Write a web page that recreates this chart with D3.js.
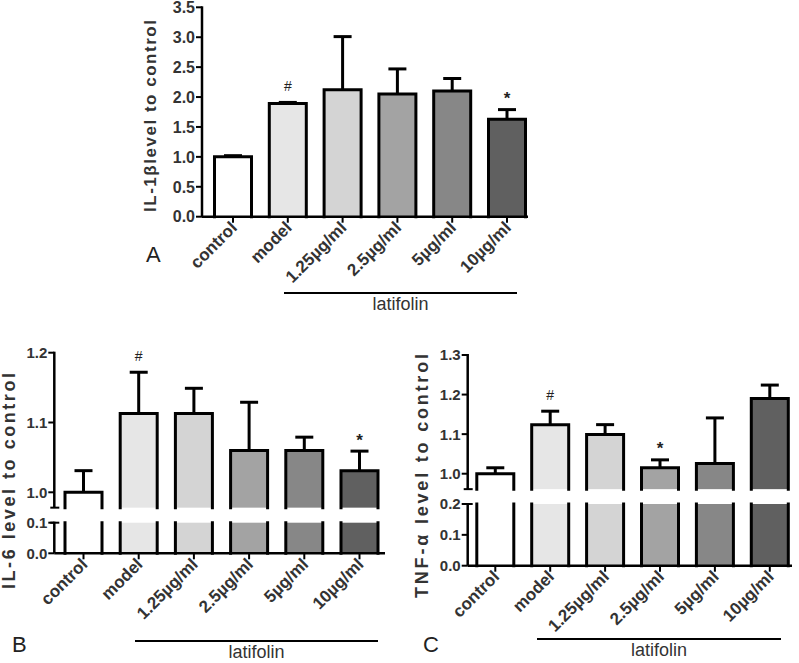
<!DOCTYPE html>
<html>
<head>
<meta charset="utf-8">
<script src="https://cdn.jsdelivr.net/npm/d3@7"></script>
<style>
  html, body { margin: 0; padding: 0; background: #fff; }
  svg { display: block; }
  text { font-family: Arial, "Liberation Sans", Helvetica, sans-serif; fill: #222; }
</style>
</head>
<body>
<svg id="chart" width="799" height="663"></svg>
<script>
// ---------- data ----------
const categories = ["control", "model", "1.25µg/ml", "2.5µg/ml", "5µg/ml", "10µg/ml"];
const barFills = ["#ffffff", "#e6e6e6", "#d4d4d4", "#a3a3a3", "#878787", "#606060"];

const il1bMean = [1.00, 1.89, 2.12, 2.05, 2.10, 1.63];
const il1bErr  = [0.02, 0.02, 0.89, 0.42, 0.21, 0.16];
const il1bMarks = ["", "#", "", "", "", "*"];
const il1bTicks = [0.0, 0.5, 1.0, 1.5, 2.0, 2.5, 3.0, 3.5];

const il6Mean = [1.000, 1.113, 1.113, 1.060, 1.060, 1.031];
const il6Err  = [0.031, 0.059, 0.036, 0.069, 0.019, 0.028];
const il6Marks = ["", "#", "", "", "", "*"];
const il6TicksLow = [0.0, 0.1];
const il6TicksHigh = [1.0, 1.1, 1.2];

const tnfMean = [1.000, 1.124, 1.099, 1.015, 1.026, 1.190];
const tnfErr  = [0.015, 0.034, 0.025, 0.020, 0.115, 0.034];
const tnfMarks = ["", "#", "", "*", "", ""];
const tnfTicksLow = [0.0, 0.1, 0.2];
const tnfTicksHigh = [1.0, 1.1, 1.2, 1.3];

const groupLabel = "latifolin";

// ---------- drawing ----------
const svg = d3.select("#chart");
const SW = 3;       // outline width
const BARW = 37;    // inner bar width

function fmt(v) { return d3.format(".1f")(v); }

function drawPanel(cfg) {
  const g = svg.append("g");
  const step = (cfg.bandRange[1] - cfg.bandRange[0]) / categories.length;
  const pad = 1 - (BARW + SW) / step;
  const x = d3.scaleBand().domain(categories).range(cfg.bandRange)
    .paddingInner(pad).paddingOuter(pad / 2);
  const cx = c => x(c) + x.bandwidth() / 2;

  const segs = cfg.segments;
  const low = segs[0].scale;
  const y0 = low(0);

  // bars
  categories.forEach((c, i) => {
    const v = cfg.mean[i];
    const left = cx(c) - BARW / 2, right = cx(c) + BARW / 2;
    segs.forEach(s => {
      const [d0, d1] = s.scale.domain();
      if (v <= d0) return;
      const top = Math.min(v, d1);
      const yt = s.scale(top), yb = s.scale(d0);
      g.append("rect").attr("x", left).attr("y", yt).attr("width", BARW)
        .attr("height", yb - yt).attr("fill", cfg.fills[i]);
      let p = `M${left},${yb} L${left},${yt}`;
      if (v <= d1) p += ` L${right},${yt}`; else p += ` M${right},${yt}`;
      p += ` L${right},${yb}`;
      g.append("path").attr("d", p).attr("fill", "none").attr("stroke", "#000")
        .attr("stroke-width", SW).attr("stroke-linecap", "square");
    });
    // error bar
    const topSeg = segs.find(s => v >= s.scale.domain()[0] && v <= s.scale.domain()[1]);
    const ys = topSeg.scale;
    const yv = ys(v), ye = ys(v + cfg.err[i]);
    g.append("line").attr("x1", cx(c)).attr("x2", cx(c)).attr("y1", yv).attr("y2", ye)
      .attr("stroke", "#000").attr("stroke-width", SW);
    g.append("line").attr("x1", cx(c) - 9).attr("x2", cx(c) + 9).attr("y1", ye).attr("y2", ye)
      .attr("stroke", "#000").attr("stroke-width", SW);
    if (cfg.marks[i]) {
      const isStar = cfg.marks[i] === "*";
      g.append("text").attr("x", cx(c)).attr("y", ye - 16)
        .attr("text-anchor", "middle")
        .attr("dy", isStar ? "0.62em" : "0.36em")
        .style("font-size", isStar ? "17px" : "14px")
        .style("font-weight", isStar ? "bold" : "normal")
        .text(cfg.marks[i]);
    }
  });

  // y axis segments
  segs.forEach((s, si) => {
    const [d0, d1] = s.scale.domain();
    const yt = s.scale(d1), yb = s.scale(d0);
    g.append("line").attr("x1", cfg.axisX).attr("x2", cfg.axisX).attr("y1", yt - 1).attr("y2", yb)
      .attr("stroke", "#000").attr("stroke-width", 2.5);
    s.ticks.forEach(t => {
      const yy = s.scale(t);
      g.append("line").attr("x1", cfg.axisX - 6).attr("x2", cfg.axisX).attr("y1", yy).attr("y2", yy)
        .attr("stroke", "#000").attr("stroke-width", 2);
      g.append("text").attr("x", cfg.axisX - 7).attr("y", yy).attr("dy", "0.36em")
        .attr("text-anchor", "end").style("font-size", cfg.tickFont).style("font-weight", "bold")
        .style("fill", "#333").text(fmt(t));
    });
    if (segs.length > 1) {
      if (si > 0) {
        g.append("line").attr("x1", cfg.axisX - 4).attr("x2", cfg.axisX + 5).attr("y1", yb).attr("y2", yb)
          .attr("stroke", "#000").attr("stroke-width", 2);
      }
      if (si < segs.length - 1) {
        g.append("line").attr("x1", cfg.axisX - 4).attr("x2", cfg.axisX + 5).attr("y1", yt).attr("y2", yt)
          .attr("stroke", "#000").attr("stroke-width", 2);
      }
    }
  });

  // x axis
  g.append("line").attr("x1", cfg.axisX).attr("x2", cfg.axisEnd).attr("y1", y0).attr("y2", y0)
    .attr("stroke", "#000").attr("stroke-width", 2.5);
  categories.forEach(c => {
    g.append("line").attr("x1", cx(c)).attr("x2", cx(c)).attr("y1", y0).attr("y2", y0 + 6)
      .attr("stroke", "#000").attr("stroke-width", 2);
    g.append("text")
      .attr("transform", `translate(${cx(c) + 5},${y0 + 12}) rotate(-45)`)
      .attr("text-anchor", "end").style("font-size", "17px").style("font-weight", "bold")
      .style("fill", "#333").text(c);
  });

  // y title
  g.append("text")
    .attr("transform", `translate(${cfg.titleX},${cfg.titleY}) rotate(-90)`)
    .attr("text-anchor", "middle").attr("dy", "0.35em")
    .attr("textLength", cfg.titleLen).attr("lengthAdjust", "spacing")
    .style("font-size", cfg.titleFont).style("font-weight", "bold").style("fill", "#333")
    .text(cfg.title);

  // group line + label
  g.append("line").attr("x1", cfg.groupLine[0]).attr("x2", cfg.groupLine[1])
    .attr("y1", cfg.groupY).attr("y2", cfg.groupY).attr("stroke", "#000").attr("stroke-width", 2);
  g.append("text").attr("x", (cfg.groupLine[0] + cfg.groupLine[1]) / 2).attr("y", cfg.groupY + 17)
    .attr("text-anchor", "middle").style("font-size", "18px").style("fill", "#333").text(groupLabel);

  // panel letter
  g.append("text").attr("x", cfg.letterPos[0]).attr("y", cfg.letterPos[1])
    .style("font-size", "22px").style("fill", "#222").text(cfg.letter);
}

// Panel A
drawPanel({
  letter: "A", letterPos: [146, 262],
  title: "IL-1βlevel to control", titleX: 150, titleY: 116, titleLen: 192, titleFont: "17px",
  axisX: 202, axisEnd: 528, tickFont: "16px",
  bandRange: [205.6, 534.4],
  segments: [{ scale: d3.scaleLinear().domain([0, 3.5]).range([216.7, 7.3]), ticks: il1bTicks }],
  mean: il1bMean, err: il1bErr, marks: il1bMarks, fills: barFills,
  groupLine: [284, 517], groupY: 293
});

// Panel B
drawPanel({
  letter: "B", letterPos: [12, 652],
  title: "IL-6 level to control", titleX: 9, titleY: 481, titleLen: 216, titleFont: "18px",
  axisX: 54.3, axisEnd: 385, tickFont: "15px",
  bandRange: [55.9, 387.1],
  segments: [
    { scale: d3.scaleLinear().domain([0, 0.1]).range([553.3, 522.7]), ticks: il6TicksLow },
    { scale: d3.scaleLinear().domain([0.978, 1.2]).range([492.3 + 0.022 * 698, 352.7]), ticks: il6TicksHigh }
  ],
  mean: il6Mean, err: il6Err, marks: il6Marks, fills: barFills,
  groupLine: [135, 378], groupY: 641
});

// Panel C
drawPanel({
  letter: "C", letterPos: [423, 652],
  title: "TNF-α level to control", titleX: 422, titleY: 476, titleLen: 244, titleFont: "18px",
  axisX: 467.7, axisEnd: 792, tickFont: "15px",
  bandRange: [467.85, 797.25],
  segments: [
    { scale: d3.scaleLinear().domain([0, 0.2]).range([565.7, 504]), ticks: tnfTicksLow },
    { scale: d3.scaleLinear().domain([0.961, 1.3]).range([473.7 + 0.039 * 396, 355]), ticks: tnfTicksHigh }
  ],
  mean: tnfMean, err: tnfErr, marks: tnfMarks, fills: barFills,
  groupLine: [537, 781], groupY: 639
});
</script>
</body>
</html>
